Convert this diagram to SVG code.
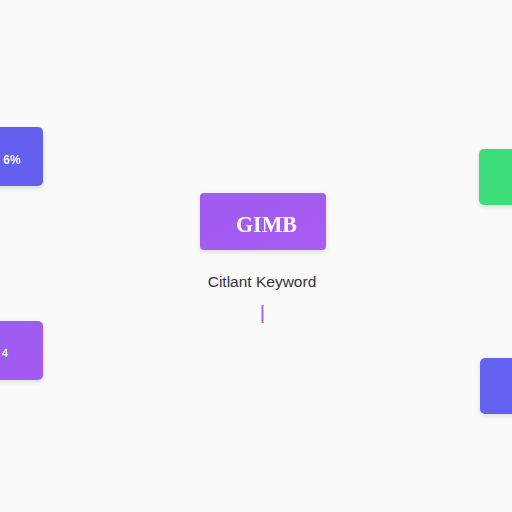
<svg xmlns="http://www.w3.org/2000/svg" width="512" height="512" viewBox="0 0 512 512">
<style>
.lbl{font-family:"Liberation Sans",Arial,sans-serif;fill:#ffffff;font-weight:bold}
.cap{font-family:"Liberation Sans",Arial,sans-serif;fill:#333338;font-size:15.5px}
.title{font-family:"Liberation Serif","Times New Roman",serif;fill:#ffffff;font-size:23px;font-weight:bold}
</style>
<defs>
<filter id="sh" x="-20%" y="-20%" width="140%" height="150%">
<feDropShadow dx="0" dy="2" stdDeviation="2.5" flood-color="#000" flood-opacity="0.12"/>
</filter>
<linearGradient id="gc" x1="0" y1="0" x2="1" y2="1">
<stop offset="0" stop-color="#9f5cf0"/>
<stop offset="1" stop-color="#a95bf2"/>
</linearGradient>
<linearGradient id="gl" x1="0" y1="0" x2="1" y2="1">
<stop offset="0" stop-color="#9a5cf0"/>
<stop offset="1" stop-color="#a65af0"/>
</linearGradient>
</defs>
<rect width="512" height="512" fill="#fafafa"/>
<g id="node-left-top" filter="url(#sh)">
<rect x="-10" y="127" width="53" height="59" rx="5" fill="#6360f0"/>
<text class="lbl" x="12" y="164" font-size="12" text-anchor="middle">6%</text>
</g>
<g id="node-left-bottom" filter="url(#sh)">
<rect x="-10" y="321" width="53" height="59" rx="5" fill="url(#gl)"/>
<text class="lbl" x="5" y="357" font-size="11" text-anchor="middle">4</text>
</g>
<g id="node-center" filter="url(#sh)">
<rect x="200" y="193" width="126" height="57" rx="4" fill="url(#gc)"/>
<text class="title" x="236" y="232" textLength="61" lengthAdjust="spacingAndGlyphs">GIMB</text>
</g>
<g id="node-right-top" filter="url(#sh)">
<rect x="479" y="149" width="45" height="56" rx="5" fill="#3ddd7b"/>
</g>
<g id="node-right-bottom" filter="url(#sh)">
<rect x="480" y="358" width="44" height="56" rx="5" fill="#6462f1"/>
</g>
<text class="cap" x="262" y="287" text-anchor="middle">Citlant Keyword</text>
<g id="connectors">
<line x1="262.5" y1="305" x2="262.5" y2="323" stroke="#a06be8" stroke-width="2"/>
</g>
</svg>
